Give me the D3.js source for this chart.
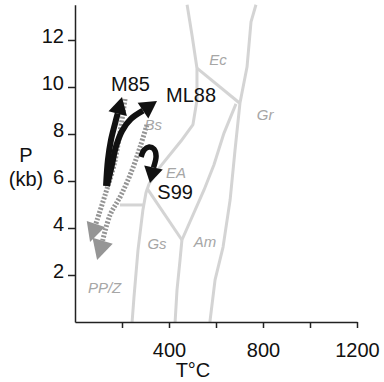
<!DOCTYPE html>
<html>
<head>
<meta charset="utf-8">
<script src="https://cdn.jsdelivr.net/npm/d3@7"></script>
<style>
  body { margin: 0; background: #fff; }
  text { font-family: "Liberation Sans", Arial, Helvetica, sans-serif; }
</style>
</head>
<body>
<div id="chart"></div>
<script>
// ticks
const tTicks = [200, 400, 600, 800, 1000, 1200];
const tLabelled = [400, 800, 1200];
const pTicks = [2, 4, 6, 8, 10, 12];

// facies boundaries, [T degC, P kb]
const bsLeftLine = [[477, 13.5], [498, 12.2], [519, 10.8], [519, 9.45], [502, 8.4], [451, 7.7],
                    [362, 6.6], [315, 5.87], [302, 5.5], [289, 4.77], [268, 3.06], [251, 1.06], [243, 0]];
const ecGrLine = [[519, 10.8], [700, 9.32]];
const grLine = [[770, 13.5], [749, 12.77], [732, 10.85], [702, 9.32], [681, 7.32], [660, 5.19],
                [630, 3.19], [596, 1.79], [574, 0]];
const eaAmLine = [[685, 9.28], [634, 8.04], [591, 6.68], [549, 5.62], [455, 3.49]];
const eaGsLine = [[306, 5.70], [455, 3.49]];
const gsAmLine = [[455, 3.49], [447, 2.64], [434, 1.36], [426, 0]];
const bsGsLine = [[191, 4.98], [289, 4.98]];

// facies names
const faciesNames = ["Ec", "Gr", "Bs", "EA", "Gs", "Am", "PP/Z"];
const faciesT = [609, 809, 333, 430, 349, 553, 126];
const faciesP = [10.94, 8.6, 8.15, 6.13, 3.1, 3.19, 1.23];

// P-T paths
const m85Path = [[132, 5.79], [140, 6.89], [153, 7.74], [170, 8.43], [200, 9.57]];
const ml88Path = [[136, 5.79], [157, 6.68], [174, 7.45], [200, 8.13], [238, 8.64], [281, 9.02], [349, 9.40]];
const s99Path = [[281, 6.55], [281, 7.02], [294, 7.32], [315, 7.45], [336, 7.36], [345, 7.06], [319, 5.91]];
const retroPath1 = [[213, 9.49], [191, 8.04], [166, 6.68], [132, 5.53], [94, 4.34], [64, 3.40]];
const retroPath2 = [[306, 8.38], [277, 7.45], [243, 6.47], [196, 5.40], [149, 4.55], [94, 2.64]];

const pathNames = ["M85", "ML88", "S99"];
const pathLabelT = [236, 494, 426];
const pathLabelP = [9.83, 9.36, 5.23];

let svg = d3.select("#chart").append("svg")
    .attr("width", 384)
    .attr("height", 382);

let x = d3.scaleLinear().domain([0, 1200]).range([75, 357]);
let y = d3.scaleLinear().domain([0, 13.5]).range([322, 4.75]);

let line = d3.line()
    .x(function (d) { return x(d[0]); })
    .y(function (d) { return y(d[1]); });

// facies boundaries
let faciesLines = [bsLeftLine, ecGrLine, grLine, eaAmLine, eaGsLine, gsAmLine, bsGsLine];
svg.append("g").selectAll("path")
    .data(faciesLines)
    .enter()
    .append("path")
    .attr("d", line)
    .attr("fill", "none")
    .attr("stroke", "#d4d4d4")
    .attr("stroke-width", 3)
    .attr("stroke-linejoin", "round");

svg.append("g").selectAll("text")
    .data(faciesNames)
    .enter()
    .append("text")
    .attr("x", function (d, i) { return x(faciesT[i]); })
    .attr("y", function (d, i) { return y(faciesP[i]); })
    .attr("text-anchor", "middle")
    .style("font-size", "15px")
    .style("font-style", "italic")
    .attr("fill", "#a6a6a6")
    .text(function (d) { return d; });

// arrow = curved shaft + triangle head at the last point
function drawArrow(g, pts, colour, width, headLen, headW, dash) {
    let p = pts.map(function (d) { return [x(d[0]), y(d[1])]; });
    let tip = p[p.length - 1];
    let shaftPts = p.slice(0, -1).filter(function (q) {
        return Math.hypot(q[0] - tip[0], q[1] - tip[1]) > headLen + 2;
    });
    let prev = shaftPts[shaftPts.length - 1];
    let len = Math.hypot(tip[0] - prev[0], tip[1] - prev[1]);
    let ux = (tip[0] - prev[0]) / len, uy = (tip[1] - prev[1]) / len;
    let base = [tip[0] - ux * headLen, tip[1] - uy * headLen];
    shaftPts.push(base);

    g.append("path")
        .attr("d", d3.line().curve(d3.curveCatmullRom)(shaftPts))
        .attr("fill", "none")
        .attr("stroke", colour)
        .attr("stroke-width", width)
        .attr("stroke-dasharray", dash);

    g.append("path")
        .attr("d", d3.line()([tip,
            [base[0] - uy * headW, base[1] + ux * headW],
            [base[0] + uy * headW, base[1] - ux * headW]]) + "Z")
        .attr("fill", colour);
}

let arrows = svg.append("g");
drawArrow(arrows, retroPath1, "#959595", 5, 19, 9.5, "2,1.6");
drawArrow(arrows, retroPath2, "#959595", 5, 20, 10.5, "2,1.6");
drawArrow(arrows, m85Path, "#111", 6, 17, 9.5, null);
drawArrow(arrows, ml88Path, "#111", 6, 17, 9.5, null);
drawArrow(arrows, s99Path, "#111", 5.5, 16, 9.5, null);

svg.append("g").selectAll("text")
    .data(pathNames)
    .enter()
    .append("text")
    .attr("x", function (d, i) { return x(pathLabelT[i]); })
    .attr("y", function (d, i) { return y(pathLabelP[i]); })
    .attr("text-anchor", "middle")
    .style("font-size", "20px")
    .attr("fill", "#111")
    .text(function (d) { return d; });

// axes
let xAxis = svg.append("g")
    .attr("transform", "translate(0,322)")
    .call(d3.axisBottom(x).tickValues(tTicks).tickSize(6).tickSizeOuter(0)
        .tickFormat(function (d) { return tLabelled.indexOf(d) >= 0 ? d : ""; }));

let yAxis = svg.append("g")
    .attr("transform", "translate(75,0)")
    .call(d3.axisLeft(y).tickValues(pTicks).tickSize(7).tickSizeOuter(0));

[xAxis, yAxis].forEach(function (a) {
    a.select(".domain").attr("stroke", "#222").attr("stroke-width", 1.5);
    a.selectAll(".tick line").attr("stroke", "#222").attr("stroke-width", 1.5);
    a.selectAll(".tick text")
        .attr("fill", "#111")
        .style("font-size", "20px")
        .style("font-family", "'Liberation Sans', Arial, sans-serif");
});
xAxis.selectAll(".tick text").attr("y", 35).attr("dy", 0);
yAxis.selectAll(".tick text").attr("x", -11).attr("y", 2).attr("dy", 0);

// axis titles
svg.append("text")
    .attr("x", 193).attr("y", 377)
    .attr("text-anchor", "middle")
    .style("font-size", "20px")
    .attr("fill", "#111")
    .text("T°C");

svg.append("text")
    .attr("x", 26).attr("y", 162)
    .attr("text-anchor", "middle")
    .style("font-size", "20px")
    .attr("fill", "#111")
    .text("P");

svg.append("text")
    .attr("x", 26).attr("y", 186)
    .attr("text-anchor", "middle")
    .style("font-size", "20px")
    .attr("fill", "#111")
    .text("(kb)");
</script>
</body>
</html>
